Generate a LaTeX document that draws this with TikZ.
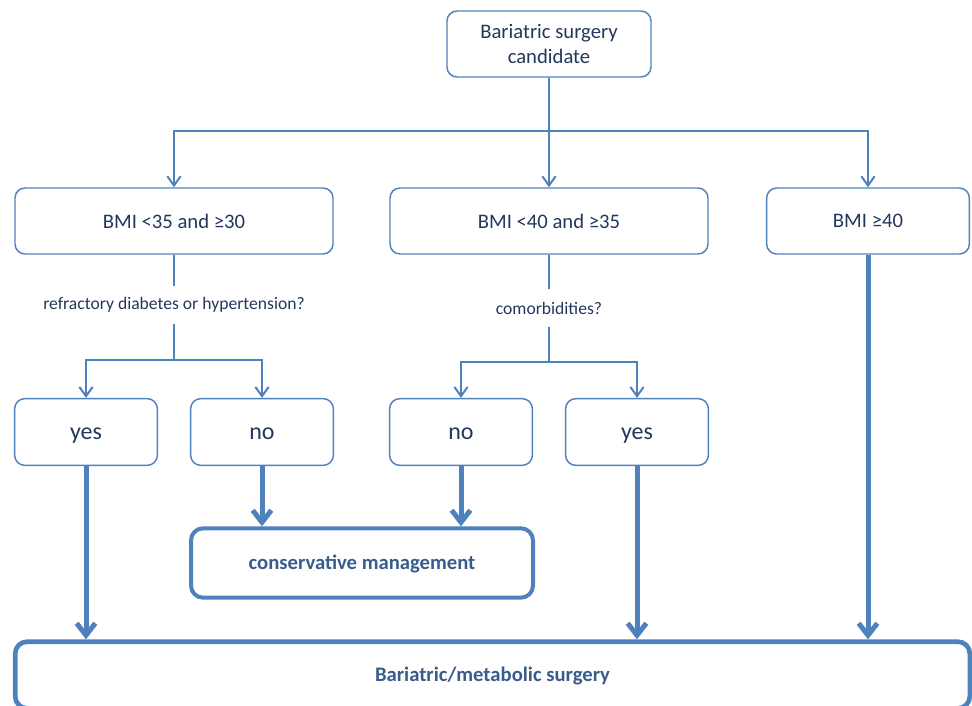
\documentclass[tikz,border=0pt]{standalone}
\usepackage{fontspec}
\setmainfont{Carlito}
\usetikzlibrary{arrows.meta}
\definecolor{flow}{RGB}{79,129,189}
\definecolor{ink}{RGB}{35,55,90}
\definecolor{boldink}{RGB}{56,93,140}

\begin{document}
\begin{tikzpicture}[x=0.75pt,y=-0.75pt,
    box/.style={draw=flow,line width=1.1pt,rounded corners=7.5pt,text=ink,align=center,
      font=\fontsize{15.5}{19}\selectfont,minimum height=49.5pt},
    answer/.style={box,minimum width=107pt,minimum height=50pt,font=\fontsize{18}{22}\selectfont,
      text height=15pt,text depth=3.6pt},
    outcome/.style={draw=flow,line width=3pt,rounded corners=9pt,text=boldink,
      font=\bfseries\fontsize{15.5}{18}\selectfont,text height=13pt,text depth=3.6pt},
    question/.style={text=ink,font=\fontsize{13.2}{16}\selectfont,minimum height=28pt},
    link/.style={draw=flow,line width=1.5pt},
    linkarrow/.style={link,-{Straight Barb[length=7pt,width=10pt]}},
    heavy/.style={draw=flow,line width=3.75pt,-{Straight Barb[length=9pt,width=14pt]}}]
    \useasboundingbox (0,0) rectangle (972,706);
    \clip (0,0) rectangle (972,706);
    \node[box,minimum width=153pt] (cand) at (549,44) {Bariatric surgery\\candidate};
    \node[box,minimum width=238.5pt] (bmia) at (174,221) {BMI <35 and ≥30};
    \node[box,minimum width=238.5pt] (bmib) at (549,221) {BMI <40 and ≥35};
    \node[box,minimum width=152pt] (bmic) at (868,221) {BMI ≥40};
    \node[question] (qa) at (174,305) {refractory diabetes or hypertension?};
    \node[question] (qb) at (549,308) {comorbidities?};
    \node[answer] (yesa) at (86,432) {yes};
    \node[answer] (noa) at (262,432) {no};
    \node[answer] (nob) at (461,432) {no};
    \node[answer] (yesb) at (637,432) {yes};
    \node[outcome,minimum width=256.5pt,minimum height=52pt] (cons) at (362,563) {conservative management};
    \node[outcome,line width=3.5pt,minimum width=716pt,minimum height=50pt] (surg) at (492.5,675) {Bariatric/metabolic surgery};
    % first split
    \coordinate (splita) at (549,131);
    \draw[link] (cand) -- (splita);
    \draw[linkarrow] (splita) -| (bmia);
    \draw[linkarrow] (splita) -- (bmib);
    \draw[linkarrow] (splita) -| (bmic);
    % questions
    \coordinate (splitb) at (174,360);
    \draw[link] (bmia) -- (qa);
    \draw[link] (qa) -- (splitb);
    \draw[linkarrow] (splitb) -| (yesa);
    \draw[linkarrow] (splitb) -| (noa);
    \coordinate (splitc) at (549,362);
    \draw[link] (bmib) -- (qb);
    \draw[link] (qb) -- (splitc);
    \draw[linkarrow] (splitc) -| (nob);
    \draw[linkarrow] (splitc) -| (yesb);
    % outcomes
    \draw[heavy] (noa) -- (noa |- cons.north);
    \draw[heavy] (nob) -- (nob |- cons.north);
    \draw[heavy] (yesa) -- (yesa |- surg.north);
    \draw[heavy] (yesb) -- (yesb |- surg.north);
    \draw[heavy] (bmic) -- (bmic |- surg.north);
\end{tikzpicture}
\end{document}
